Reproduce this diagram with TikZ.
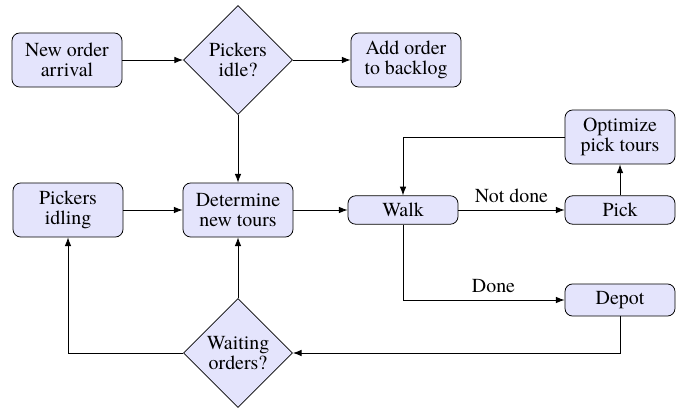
\documentclass[tikz,border=0pt]{standalone}
\usepackage{fontspec}
\IfFontExistsTF{TeX Gyre Termes}{\setmainfont{TeX Gyre Termes}}{}
\usetikzlibrary{shapes.geometric,arrows.meta}
\definecolor{boxfill}{RGB}{228,228,252}
\tikzset{
  every node/.style={font=\fontsize{10.3}{10.6}\selectfont},
  proc/.style={draw, fill=boxfill, rounded corners=4pt, align=center,
    minimum width=57pt, minimum height=14pt, inner xsep=3.33pt, inner ysep=3.8pt},
  twoline/.style={minimum height=28pt},
  decide/.style={draw, fill=boxfill, diamond, aspect=1, align=center,
    minimum width=56.5pt, minimum height=56.5pt, inner sep=0pt},
  flow/.style={-{Latex[length=4.5pt,width=3.4pt]}, line width=0.45pt},
}
\begin{document}
\begin{tikzpicture}[x=0.518pt, y=-0.518pt]
\useasboundingbox (0,0) rectangle (689,409);

\node[proc,twoline] (new)    at (67,60)   {New order\\arrival};
\node[decide]       (idle)   at (238,60)  {Pickers\\idle?};
\node[proc,twoline] (add)    at (406,60)  {Add order\\to backlog};
\node[proc,twoline] (opt)    at (620,137) {Optimize\\pick tours};
\node[proc,twoline] (idling) at (68,210)  {Pickers\\idling};
\node[proc,twoline] (det)    at (238,210) {Determine\\new tours};
\node[proc]         (walk)   at (403,210) {Walk};
\node[proc]         (pick)   at (620,210) {Pick};
\node[proc]         (depot)  at (620,300) {Depot};
\node[decide]       (wait)   at (238,353) {Waiting\\orders?};

\draw[flow] (new) -- (idle);
\draw[flow] (idle) -- (add);
\draw[flow] (idle) -- (det);
\draw[flow] (idling) -- (det);
\draw[flow] (det) -- (walk);
\draw[flow] (walk) -- node[above] {Not done} (pick);
\draw[flow] (pick) -- (opt);
\draw[flow] (opt.west) -| (walk.north);
\draw[flow] (walk.south) |- node[pos=0.78, above] {Done} (depot.west);
\draw[flow] (depot.south) |- (wait.east);
\draw[flow] (wait.west) -| (idling.south);
\draw[flow] (wait.north) -- (det.south);
\end{tikzpicture}
\end{document}
